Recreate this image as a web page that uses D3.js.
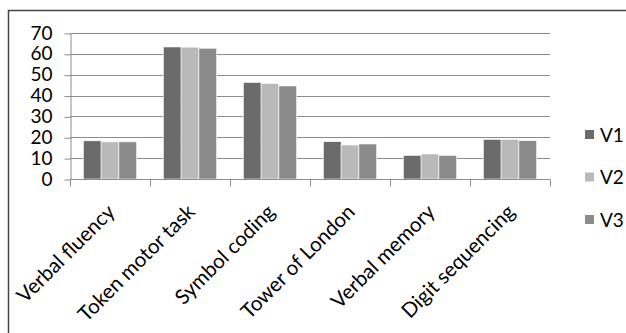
<!DOCTYPE html>
<html>
<head>
<meta charset="utf-8">
<script src="https://cdn.jsdelivr.net/npm/d3@7"></script>
<style>
  html, body { margin: 0; padding: 0; background: #fff; }
  svg { display: block; }
  text { font-family: Lato, "Liberation Sans", sans-serif; fill: #000; }
</style>
</head>
<body>
<svg id="chart" width="626" height="333"></svg>
<script>
// Task categories along the x axis
const categories = ["Verbal fluency", "Token motor task", "Symbol coding",
                    "Tower of London", "Verbal memory", "Digit sequencing"];
// Series names and their scores per category
const seriesNames = ["V1", "V2", "V3"];
const v1 = [18.3, 63.3, 46.3, 17.9, 11.3, 19.0];
const v2 = [17.8, 63.2, 45.8, 16.3, 12.0, 19.0];
const v3 = [17.8, 62.7, 44.6, 16.8, 11.3, 18.4];
const yTicks = [0, 10, 20, 30, 40, 50, 60, 70];
const colors = ["#6b6b6b", "#b9b9b9", "#8b8b8b"];

const seriesValues = [v1, v2, v3];
const svg = d3.select("#chart");

// Outer frame
svg.append("path")
  .attr("d", "M8.5,333 V10.5 H626")
  .attr("fill", "none")
  .attr("stroke", "#444")
  .attr("stroke-width", 1.5);

const plot = { left: 70, right: 550, top: 33, bottom: 179 };

const x = d3.scaleBand().domain(categories).range([plot.left, plot.right]).padding(0);
// three touching bars per group with a 150% gap split on both sides
const inner = d3.scaleBand().domain(seriesNames).range([0, x.bandwidth()])
  .paddingOuter(0.75).paddingInner(0);
const y = d3.scaleLinear().domain([0, 70]).range([plot.bottom, plot.top]);

// Horizontal gridlines
svg.append("g")
  .selectAll("line").data(yTicks.filter(d => d > 0)).join("line")
  .attr("x1", plot.left).attr("x2", plot.right)
  .attr("y1", d => Math.round(y(d)) + 0.5).attr("y2", d => Math.round(y(d)) + 0.5)
  .attr("stroke", "#8c8c8c").attr("stroke-width", 1);

// Y axis
const yAxis = svg.append("g")
  .attr("transform", `translate(${plot.left + 0.5},0)`)
  .call(d3.axisLeft(y).tickValues(yTicks).tickSizeInner(6).tickSizeOuter(0).tickPadding(12));
yAxis.selectAll(".domain, .tick line").attr("stroke", "#8c8c8c");
yAxis.selectAll(".tick line").attr("transform", "translate(0,0.5)");
yAxis.selectAll("text").style("font-size", "19px").style("font-family", "Lato, 'Liberation Sans', sans-serif").attr("fill", "#000");

// Bars
const groups = svg.append("g").selectAll("g").data(categories).join("g")
  .attr("transform", d => `translate(${x(d)},0)`);
groups.selectAll("rect")
  .data((c, i) => seriesNames.map((s, k) => ({ s, k, v: seriesValues[k][i] })))
  .join("rect")
  .attr("x", d => inner(d.s))
  .attr("width", inner.bandwidth())
  .attr("y", d => y(d.v))
  .attr("height", d => y(0) - y(d.v))
  .attr("fill", d => colors[d.k])
  .attr("stroke", "#fff").attr("stroke-width", 0.6);

// X axis with ticks between categories
const xAxisG = svg.append("g").attr("transform", `translate(0,${plot.bottom + 0.5})`);
xAxisG.append("line").attr("x1", plot.left).attr("x2", plot.right)
  .attr("stroke", "#8c8c8c");
xAxisG.selectAll("line.tick").data(d3.range(categories.length + 1)).join("line")
  .attr("class", "tick")
  .attr("x1", i => plot.left + i * x.step() + 0.5).attr("x2", i => plot.left + i * x.step() + 0.5)
  .attr("y1", 0).attr("y2", 7).attr("stroke", "#8c8c8c");

// Rotated category labels
svg.append("g").selectAll("text").data(categories).join("text")
  .attr("transform", d => `translate(${x(d) + x.bandwidth() / 2 - 4},${plot.bottom + 24}) rotate(-45)`)
  .attr("text-anchor", "end")
  .attr("dy", "0.7em")
  .style("font-size", "20.5px")
  .text(d => d);

// Legend
const legend = svg.append("g").selectAll("g").data(seriesNames).join("g")
  .attr("transform", (d, i) => `translate(585,${135 + i * 42.5})`);
legend.append("rect").attr("x", 0).attr("y", -5).attr("width", 9).attr("height", 9)
  .attr("fill", (d, i) => colors[i]);
legend.append("text").attr("x", 15).attr("y", 0).attr("dy", "0.36em")
  .style("font-size", "19px").text(d => d);
</script>
</body>
</html>
